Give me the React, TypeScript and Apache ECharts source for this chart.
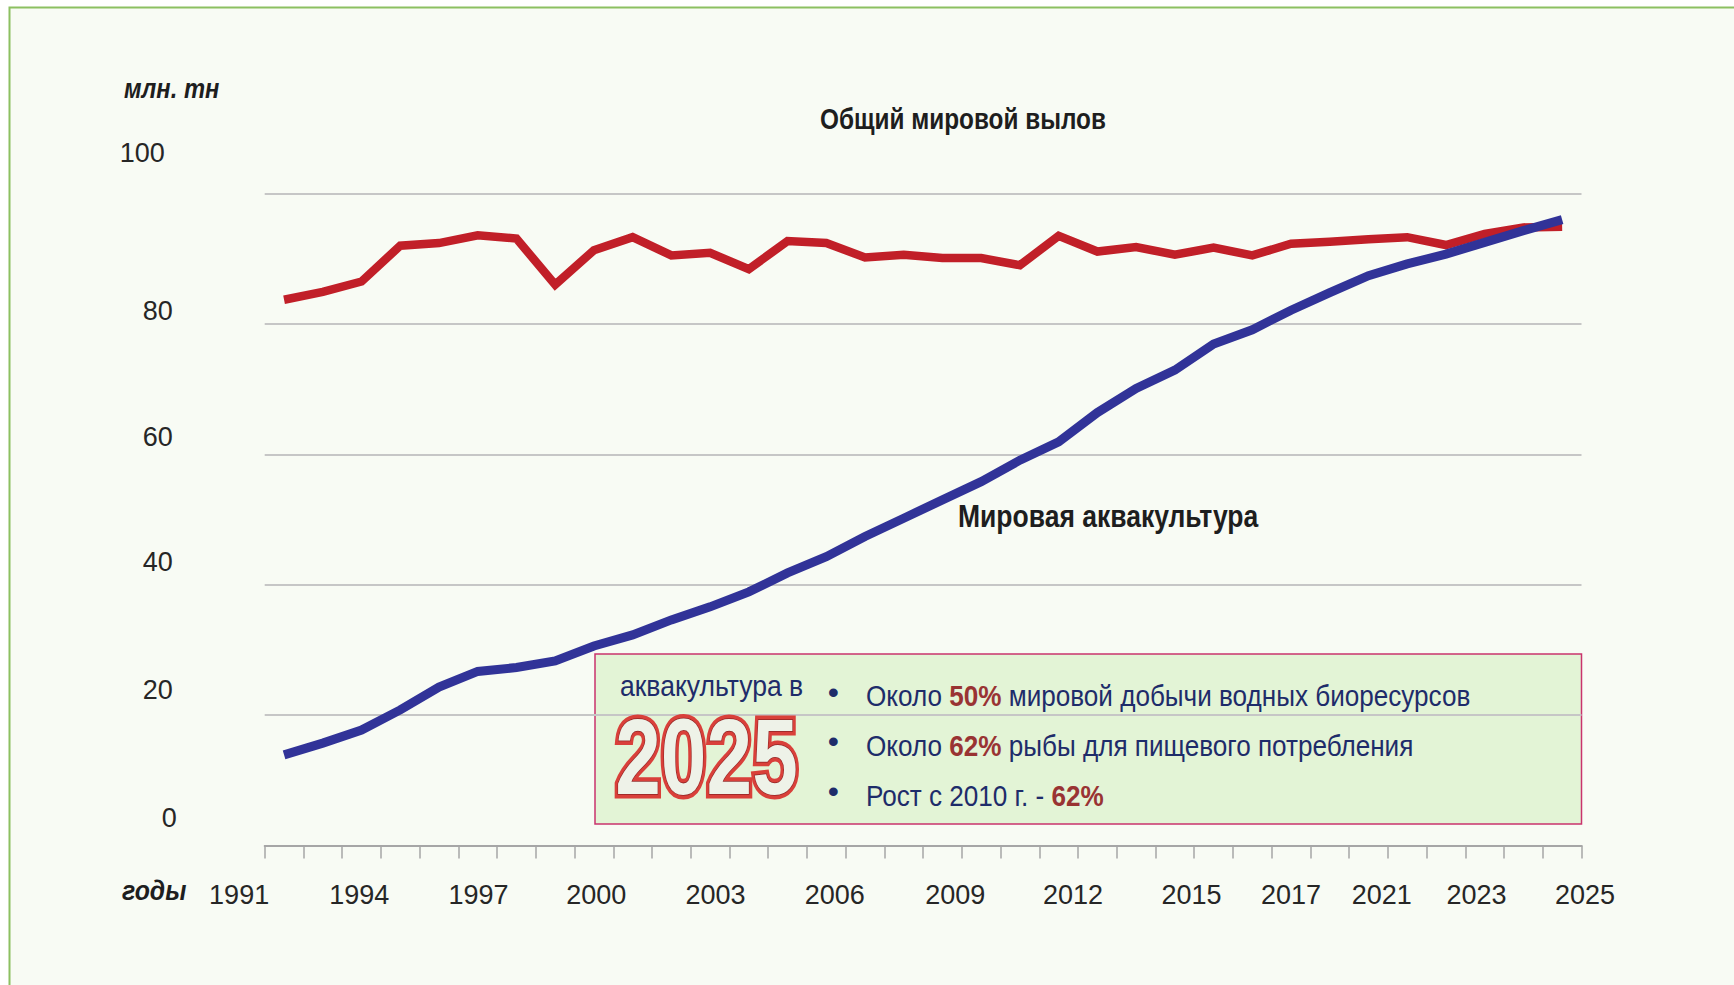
import React, { useEffect, useRef } from "react";
import * as echarts from "echarts";

// ---- data ----
const years = [
  "1992", "1993", "1994", "1995", "1996", "1997", "1998", "1999", "2000", "2001",
  "2002", "2003", "2004", "2005", "2006", "2007", "2008", "2009", "2010", "2011",
  "2012", "2013", "2014", "2015", "2016", "2017", "2018", "2019", "2020", "2021",
  "2022", "2023", "2024", "2025",
];
const totalCatch = [
  83.7, 84.9, 86.5, 92.0, 92.4, 93.6, 93.1, 86.0, 91.3, 93.3,
  90.5, 90.9, 88.4, 92.7, 92.4, 90.2, 90.6, 90.1, 90.1, 89.0,
  93.5, 91.1, 91.8, 90.6, 91.7, 90.5, 92.3, 92.6, 93.0, 93.3,
  92.1, 93.8, 94.8, 94.9,
];
const aquaculture = [
  13.9, 15.7, 17.7, 20.8, 24.3, 26.7, 27.3, 28.3, 30.6, 32.3,
  34.6, 36.6, 38.9, 41.8, 44.3, 47.4, 50.2, 53.0, 55.8, 59.1,
  61.9, 66.4, 70.1, 72.9, 76.9, 79.1, 82.1, 84.8, 87.4, 89.2,
  90.7, 92.5, 94.3, 96.0,
];
const xTickLabels = [
  "1991", "1994", "1997", "2000", "2003", "2006", "2009",
  "2012", "2015", "2017", "2021", "2023", "2025",
];
const yTickValues = [0, 20, 40, 60, 80, 100];

const titleText = "Общий мировой вылов";
const aquaLabel = "Мировая аквакультура";
const unitText = "млн. тн";
const yearsText = "годы";
const boxHead = "аквакультура в";
const boxYear = "2025";
const boxLines = [
  "Около {b|50%} мировой добычи водных биоресурсов",
  "Около {b|62%} рыбы для пищевого потребления",
  "Рост с 2010 г. - {b|62%}",
];

// ---- layout (not data) ----
const W = 1734;
const H = 985;
const G_LEFT = 264.7;
const G_RIGHT = 152.5;
const G_TOP = 193.5;
const G_BOTTOM = 139.5;
// where each x tick label sits, in units of category slots from the axis start
const xLabelSlots = [-0.66, 2.44, 5.52, 8.56, 11.64, 14.72, 17.83, 20.87, 23.93, 26.5, 28.84, 31.29, 34.09];
// vertical lift / right shift of y labels relative to their gridline
const yLabelLift: Record<number, [number, number]> = {
  0: [27.5, 0], 20: [25, 4], 40: [23, 4], 60: [17, 4], 80: [13, 4], 100: [41, 12],
};

const FONT = '"Liberation Sans", Arial, sans-serif';
const NAVY = "#1E2C6A";
const DARKRED = "#993333";

export default function App() {
  const ref = useRef<HTMLDivElement>(null);

  useEffect(() => {
    if (!ref.current) return;
    const chart = echarts.init(ref.current, undefined, { renderer: "svg" });

    const plotW = W - G_LEFT - G_RIGHT;
    const step = plotW / years.length;
    const vMin = -G_LEFT / step;
    const vMax = (W - G_LEFT) / step;

    const rich: Record<string, any> = {};
    yTickValues.forEach((v) => {
      const [lift, shift] = yLabelLift[v];
      rich["r" + v] = { padding: [0, shift, lift * 2, 0] };
    });

    const boxX = 595;
    const boxY = 654;
    const boxW = 986.5;
    const boxH = 170;

    const lineYs = [696, 746, 796];
    const bulletYs = [692, 741, 791];

    const option: any = {
      animation: false,
      backgroundColor: "#ffffff",
      grid: [
        { left: G_LEFT, right: G_RIGHT, top: G_TOP, bottom: G_BOTTOM, containLabel: false },
        { left: 0, right: 0, top: G_TOP, bottom: G_BOTTOM, containLabel: false },
      ],
      xAxis: [
        {
          type: "category",
          gridIndex: 0,
          data: years,
          boundaryGap: true,
          axisLine: { show: true, lineStyle: { color: "#A6A6A6", width: 2 } },
          axisTick: { show: true, interval: 0, length: 13, lineStyle: { color: "#A6A6A6", width: 1.5 } },
          axisLabel: { show: false },
          splitLine: { show: false },
        },
        {
          type: "value",
          gridIndex: 1,
          min: vMin,
          max: vMax,
          axisLine: { show: false },
          axisTick: { show: false },
          splitLine: { show: false },
          axisLabel: {
            show: true,
            customValues: xLabelSlots,
            margin: 49,
            verticalAlign: "middle",
            fontFamily: FONT,
            fontSize: 27,
            color: "#262626",
            formatter: (v: number) => {
              let best = 0;
              let d = Infinity;
              xLabelSlots.forEach((s, i) => {
                if (Math.abs(s - v) < d) {
                  d = Math.abs(s - v);
                  best = i;
                }
              });
              return xTickLabels[best];
            },
          },
        },
      ],
      yAxis: [
        {
          type: "value",
          gridIndex: 0,
          min: 0,
          max: 100,
          interval: 20,
          axisLine: { show: false },
          axisTick: { show: false },
          splitLine: { show: true, lineStyle: { color: "#C6C6C6", width: 2 } },
          axisLabel: {
            margin: 88,
            fontFamily: FONT,
            fontSize: 27,
            color: "#262626",
            verticalAlign: "middle",
            formatter: (v: number) => `{r${v}|${v}}`,
            rich,
          },
        },
        { type: "value", gridIndex: 1, show: false },
      ],
      series: [
        {
          name: titleText,
          type: "line",
          xAxisIndex: 0,
          yAxisIndex: 0,
          data: totalCatch,
          symbol: "none",
          lineStyle: { color: "#C11F28", width: 8.5, join: "miter", cap: "butt" },
          z: 3,
        },
        {
          name: aquaLabel,
          type: "line",
          xAxisIndex: 0,
          yAxisIndex: 0,
          data: aquaculture,
          symbol: "none",
          lineStyle: { color: "#313398", width: 9, join: "miter", cap: "butt" },
          z: 4,
        },
      ],
      graphic: [
        {
          type: "rect",
          z: -100,
          shape: { x: 9.5, y: 7.5, width: 1900, height: 1200 },
          style: { fill: "#F8FBF4", stroke: "#8CC061", lineWidth: 2 },
        },
        {
          type: "rect",
          z: -50,
          shape: { x: boxX, y: boxY, width: boxW, height: boxH },
          style: { fill: "#E3F4D6", stroke: "#C9336C", lineWidth: 1.5 },
        },
        {
          type: "text",
          z: 100,
          x: 124,
          y: 88,
          scaleX: 0.88,
          style: {
            text: unitText,
            fontFamily: FONT,
            fontSize: 27,
            fontWeight: "bold",
            fontStyle: "italic",
            fill: "#1E1E1E",
            align: "left",
            verticalAlign: "middle",
          },
        },
        {
          type: "text",
          z: 100,
          x: 122,
          y: 891,
          scaleX: 0.92,
          style: {
            text: yearsText,
            fontFamily: FONT,
            fontSize: 27,
            fontWeight: "bold",
            fontStyle: "italic",
            fill: "#1E1E1E",
            align: "left",
            verticalAlign: "middle",
          },
        },
        {
          type: "text",
          z: 100,
          x: 963,
          y: 119.5,
          scaleX: 0.84,
          style: {
            text: titleText,
            fontFamily: FONT,
            fontSize: 29,
            fontWeight: "bold",
            fill: "#1E1E1E",
            align: "center",
            verticalAlign: "middle",
          },
        },
        {
          type: "text",
          z: 100,
          x: 958,
          y: 516.5,
          scaleX: 0.855,
          style: {
            text: aquaLabel,
            fontFamily: FONT,
            fontSize: 31,
            fontWeight: "bold",
            fill: "#1E1E1E",
            align: "left",
            verticalAlign: "middle",
          },
        },
        {
          type: "text",
          z: 100,
          x: 620,
          y: 685,
          scaleX: 0.885,
          style: {
            text: boxHead,
            fontFamily: FONT,
            fontSize: 30,
            fill: NAVY,
            align: "left",
            verticalAlign: "middle",
          },
        },
        {
          type: "text",
          z: 100,
          x: 706.5,
          y: 756,
          scaleX: 0.76,
          style: {
            text: boxYear,
            fontFamily: FONT,
            fontSize: 108,
            fontWeight: "bold",
            fill: "#D9403A",
            stroke: "#D9403A",
            lineWidth: 9,
            align: "center",
            verticalAlign: "middle",
            shadowBlur: 4,
            shadowOffsetX: 3,
            shadowOffsetY: 3,
            shadowColor: "rgba(0,0,0,0.45)",
          },
        },
        {
          type: "text",
          z: 101,
          x: 706.5,
          y: 756,
          scaleX: 0.76,
          style: {
            text: boxYear,
            fontFamily: FONT,
            fontSize: 108,
            fontWeight: "bold",
            fill: "#EEF2E8",
            stroke: "#8E2424",
            lineWidth: 1.5,
            align: "center",
            verticalAlign: "middle",
          },
        },
        ...boxLines.map((t, i) => ({
          type: "text",
          z: 100,
          x: 833.3,
          y: bulletYs[i],
          style: {
            text: "•",
            fontFamily: FONT,
            fontSize: 32,
            fill: NAVY,
            align: "center",
            verticalAlign: "middle",
          },
        })),
        ...boxLines.map((t, i) => ({
          type: "text",
          z: 100,
          x: 866,
          y: lineYs[i],
          scaleX: 0.87,
          style: {
            text: t,
            fontFamily: FONT,
            fontSize: 30,
            fill: NAVY,
            align: "left",
            verticalAlign: "middle",
            rich: {
              b: { fontFamily: FONT, fontSize: 30, fontWeight: "bold", fill: DARKRED },
            },
          },
        })),
      ],
    };

    chart.setOption(option);
    return () => chart.dispose();
  }, []);

  return (
    <div style={{ position: "fixed", left: 0, top: 0, width: W, height: H, background: "#fff" }}>
      <div ref={ref} style={{ width: W, height: H }} />
    </div>
  );
}
